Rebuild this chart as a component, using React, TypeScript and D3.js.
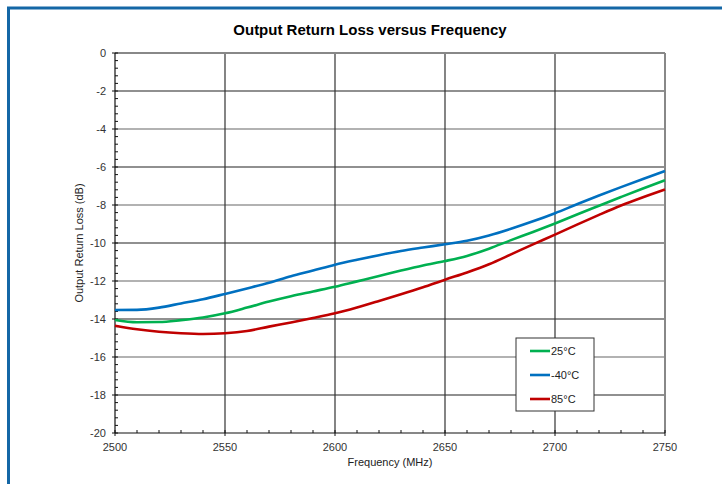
import React from "react";
import * as d3 from "d3";

const freqs = [2500, 2510, 2520, 2530, 2540, 2550, 2560, 2570, 2580, 2590, 2600, 2610, 2620, 2630, 2640, 2650, 2660, 2670, 2680, 2690, 2700, 2710, 2720, 2730, 2740, 2750];
const green25 = [-14.05, -14.17, -14.16, -14.06, -13.92, -13.7, -13.4, -13.08, -12.8, -12.55, -12.3, -12.02, -11.74, -11.45, -11.18, -10.95, -10.68, -10.3, -9.85, -9.42, -8.97, -8.5, -8.04, -7.58, -7.13, -6.7];
const blueM40 = [-13.53, -13.52, -13.4, -13.18, -12.96, -12.68, -12.39, -12.09, -11.75, -11.45, -11.14, -10.88, -10.64, -10.42, -10.24, -10.07, -9.88, -9.6, -9.25, -8.86, -8.43, -7.96, -7.5, -7.06, -6.63, -6.21];
const red85 = [-14.35, -14.54, -14.67, -14.75, -14.79, -14.75, -14.63, -14.4, -14.18, -13.95, -13.7, -13.39, -13.05, -12.7, -12.33, -11.93, -11.55, -11.12, -10.6, -10.07, -9.56, -9.03, -8.52, -8.03, -7.59, -7.18];

const xTicks = [2500, 2550, 2600, 2650, 2700, 2750];
const yTicks = [0, -2, -4, -6, -8, -10, -12, -14, -16, -18, -20];
const seriesNames = ["25°C", "-40°C", "85°C"];
const seriesColors = ["#00b050", "#0070c0", "#c00000"];
const seriesData = [green25, blueM40, red85];

export default function App() {
  const left = 115, right = 665, top = 53, bottom = 433;
  const x = d3.scaleLinear().domain([2500, 2750]).range([left, right]);
  const y = d3.scaleLinear().domain([-20, 0]).range([bottom, top]);
  const line = d3
    .line<number>()
    .x((_, i) => x(freqs[i]))
    .y((d) => y(d))
    .curve(d3.curveMonotoneX);

  const minorX = d3.range(2500, 2751, 10);
  const minorY = d3.range(0, 51).map((i) => -i * 0.4);
  const font = "Liberation Sans, Arial, sans-serif";

  const legX = 516, legY = 338;
  const rows = [351, 375, 399];

  return (
    <svg
      width={722}
      height={484}
      style={{ position: "absolute", left: 0, top: 0, background: "#fff" }}
      fontFamily={font}
    >
      {/* frame */}
      <line x1={7} x2={722} y1={8} y2={8} stroke="#1467a6" strokeWidth={3} />
      <line x1={8.5} x2={8.5} y1={7} y2={484} stroke="#1467a6" strokeWidth={3} />

      <text x={370} y={35} textAnchor="middle" fontSize={15} fontWeight="bold" fill="#000">
        Output Return Loss versus Frequency
      </text>

      {/* horizontal gridlines */}
      {yTicks.filter((t) => t !== -20 && t !== 0).map((t, i) => (
        <line key={"hy" + t} x1={left} x2={right} y1={y(t)} y2={y(t)} stroke={i % 2 === 0 ? "#222" : "#666"} strokeWidth={1.2} />
      ))}
      {/* vertical gridlines */}
      {xTicks.filter((t) => t !== 2500 && t !== 2750).map((t) => (
        <line key={"vx" + t} x1={x(t)} x2={x(t)} y1={top} y2={bottom} stroke="#333" strokeWidth={1.2} />
      ))}
      {/* plot border top/right */}
      <line x1={left} x2={right} y1={top} y2={top} stroke="#888" strokeWidth={2} />
      <line x1={right} x2={right} y1={top} y2={bottom} stroke="#888" strokeWidth={2} />

      {/* axes */}
      <line x1={left} x2={left} y1={top} y2={bottom} stroke="#111" strokeWidth={1.2} />
      <line x1={left} x2={right} y1={bottom} y2={bottom} stroke="#111" strokeWidth={1.2} />
      {minorY.map((v, i) => (
        <line key={"my" + i} x1={left} x2={left + 3} y1={y(v)} y2={y(v)} stroke="#111" strokeWidth={1} />
      ))}
      {minorX.map((v) => (
        <line key={"mx" + v} x1={x(v)} x2={x(v)} y1={bottom} y2={bottom - 3} stroke="#111" strokeWidth={1} />
      ))}
      {yTicks.map((t) => (
        <g key={"yt" + t}>
          <line x1={left - 3} x2={left} y1={y(t)} y2={y(t)} stroke="#111" strokeWidth={1} />
          <text x={106} y={y(t) + 4} textAnchor="end" fontSize={11} fill="#333">
            {t}
          </text>
        </g>
      ))}
      {xTicks.map((t) => (
        <g key={"xt" + t}>
          <line x1={x(t)} x2={x(t)} y1={bottom} y2={bottom + 3} stroke="#111" strokeWidth={1} />
          <text x={x(t)} y={451} textAnchor="middle" fontSize={11} fill="#333">
            {t}
          </text>
        </g>
      ))}

      <text x={390} y={466} textAnchor="middle" fontSize={11} fill="#222">
        Frequency (MHz)
      </text>
      <text
        transform={`translate(83,${(top + bottom) / 2}) rotate(-90)`}
        textAnchor="middle"
        fontSize={11}
        fill="#222"
      >
        Output Return Loss (dB)
      </text>

      {/* series */}
      {seriesData.map((d, i) => (
        <path key={"s" + i} d={line(d) || ""} fill="none" stroke={seriesColors[i]} strokeWidth={2.6} />
      ))}

      {/* legend */}
      <rect x={legX} y={legY} width={78} height={73} fill="#fff" stroke="#333" strokeWidth={1} />
      {seriesNames.map((n, i) => (
        <g key={"lg" + i}>
          <line x1={530} x2={550} y1={rows[i]} y2={rows[i]} stroke={seriesColors[i]} strokeWidth={2.6} />
          <text x={551} y={rows[i] + 4} fontSize={11} fill="#222">
            {n}
          </text>
        </g>
      ))}
    </svg>
  );
}
